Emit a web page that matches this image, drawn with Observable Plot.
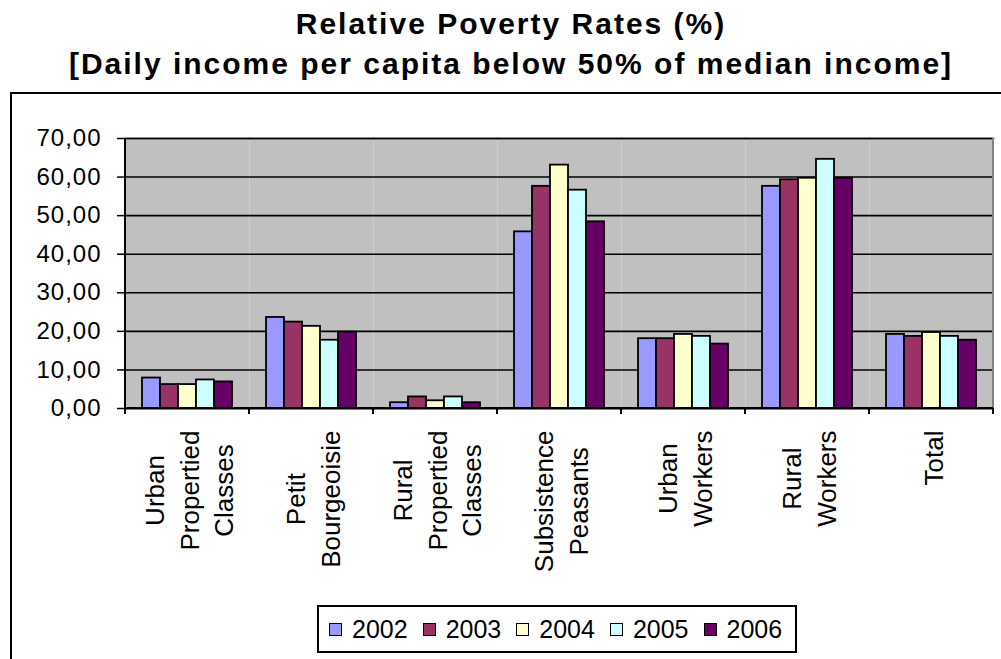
<!DOCTYPE html>
<html>
<head>
<meta charset="utf-8">
<script src="https://cdn.jsdelivr.net/npm/d3@7"></script>
<script src="https://cdn.jsdelivr.net/npm/@observablehq/plot@0.6"></script>
<style>
  html, body { margin: 0; padding: 0; background: #fff; }
  body { font-family: "Liberation Sans", Arial, sans-serif; }
  #wrap { position: relative; width: 1001px; height: 659px; overflow: hidden; }
  #title { position: absolute; left: 0; top: 4px; width: 1001px; box-sizing: border-box; padding-left: 21px;
           text-align: center; font-weight: bold; font-size: 30px; letter-spacing: 2px; line-height: 40px; color: #000; }
  #box { position: absolute; left: 10px; top: 92px; width: 1100px; height: 700px; border: 2px solid #000; }
  #chart { position: absolute; left: 0; top: 100px; }
  #legend { position: absolute; left: 317px; top: 605px; width: 480px; height: 48px; box-sizing: border-box;
            border: 2px solid #000; background: #fff; display: flex; align-items: center; padding-left: 10px; }
  .item { display: inline-flex; align-items: center; margin-right: 15px; font-size: 25px; }
  .sw { width: 11px; height: 11px; border: 1.5px solid #000; margin-right: 10px; }
</style>
</head>
<body>
<div id="wrap">
  <div id="title">Relative Poverty Rates (%)<br>[Daily income per capita below 50% of median income]</div>
  <div id="box"></div>
  <div id="chart"></div>
  <div id="legend"></div>
</div>
<script>
const categories = ["Urban Propertied Classes", "Petit Bourgeoisie", "Rural Propertied Classes",
  "Subsistence Peasants", "Urban Workers", "Rural Workers", "Total"];
const categoryLabels = ["Urban\nPropertied\nClasses", "Petit\nBourgeoisie", "Rural\nPropertied\nClasses",
  "Subsistence\nPeasants", "Urban\nWorkers", "Rural\nWorkers", "Total"];
const years = ["2002", "2003", "2004", "2005", "2006"];
const v2002 = [7.9, 23.6, 1.5, 45.8, 18.1, 57.6, 19.2];
const v2003 = [6.2, 22.4, 3.0, 57.6, 18.1, 59.3, 18.7];
const v2004 = [6.2, 21.3, 2.0, 63.1, 19.2, 59.7, 19.7];
const v2005 = [7.4, 17.7, 3.0, 56.6, 18.7, 64.6, 18.7];
const v2006 = [6.9, 19.8, 1.5, 48.4, 16.7, 59.7, 17.7];
const colors = ["#9999ff", "#993366", "#ffffcc", "#ccffff", "#660066"];
const yTicks = [0, 10, 20, 30, 40, 50, 60, 70];

const series = [v2002, v2003, v2004, v2005, v2006];
const data = [];
categories.forEach((c, i) => years.forEach((yr, j) => data.push({category: c, year: yr, value: series[j][i]})));
const labelOf = Object.fromEntries(categories.map((c, i) => [c, categoryLabels[i]]));
const fmt = d => d.toFixed(2).replace(".", ",");

const chart = Plot.plot({
  width: 1001,
  height: 500,
  marginLeft: 124,
  marginRight: 8,
  marginTop: 38,
  marginBottom: 192,
  style: {fontFamily: "'Liberation Sans', Arial, sans-serif", color: "#000", background: "transparent", overflow: "visible"},
  fx: {domain: categories, padding: 0},
  x: {domain: years, paddingInner: 0, paddingOuter: 0.8, axis: null},
  y: {domain: [0, 70], label: null},
  color: {domain: years, range: colors},
  marks: [
    Plot.frame({fill: "#c0c0c0", stroke: null}),
    Plot.frame({anchor: "top", stroke: "#808080", strokeWidth: 2}),
    Plot.gridY(yTicks.slice(1), {stroke: "#000", strokeOpacity: 1, strokeWidth: 1.6}),
    Plot.barY(data, {fx: "category", x: "year", y: "value", fill: "year", stroke: "#000", strokeWidth: 1.8}),
    Plot.ruleY([0], {stroke: "#000", strokeWidth: 2}),
    Plot.axisY(yTicks, {label: null, tickSize: 8, tickPadding: 16, tickFormat: fmt, fontSize: 24, strokeWidth: 1.5}),
    Plot.axisFx({anchor: "bottom", label: null, tickSize: 0, tickPadding: 22, tickRotate: -90, textAnchor: "end",
                 lineAnchor: "middle", lineHeight: 1.33, fontSize: 26, tickFormat: c => labelOf[c]})
  ]
});
document.getElementById("chart").appendChild(chart);

const svg = d3.select(chart);
svg.selectAll('[aria-label="y-axis tick label"] text').style("letter-spacing", "1px");

// center the lines of each rotated category label on its longest line
svg.selectAll('[aria-label="fx-axis tick label"] text').each(function() {
  const tspans = Array.from(this.querySelectorAll("tspan"));
  if (!tspans.length) return;
  const lens = tspans.map(t => t.getComputedTextLength());
  const L = Math.max(...lens);
  tspans.forEach((t, i) => t.setAttribute("x", -(L - lens[i]) / 2));
});

// axis line and category separator ticks from the scales
const fx = chart.scale("fx"), y = chart.scale("y");
const y0 = y.apply(0), yTop = y.apply(70);
const bounds = categories.map(c => fx.apply(c));
bounds.push(fx.apply(categories[categories.length - 1]) + fx.bandwidth);
const g = svg.append("g");
g.append("line").attr("x1", bounds[bounds.length - 1]).attr("x2", bounds[bounds.length - 1])
  .attr("y1", yTop).attr("y2", y0).attr("stroke", "#808080").attr("stroke-width", 2);
g.append("line").attr("x1", bounds[0]).attr("x2", bounds[0]).attr("y1", yTop).attr("y2", y0 + 6)
  .attr("stroke", "#000").attr("stroke-width", 2);
bounds.forEach(b => g.append("line").attr("x1", b).attr("x2", b).attr("y1", y0).attr("y2", y0 + 6)
  .attr("stroke", "#000").attr("stroke-width", 2));
g.append("line").attr("x1", bounds[0]).attr("x2", bounds[bounds.length - 1]).attr("y1", y0).attr("y2", y0)
  .attr("stroke", "#000").attr("stroke-width", 2);

// legend from the color scale
const color = chart.scale("color");
const legend = document.getElementById("legend");
color.domain.forEach(d => {
  const item = document.createElement("span");
  item.className = "item";
  const sw = document.createElement("span");
  sw.className = "sw";
  sw.style.background = color.apply(d);
  item.appendChild(sw);
  item.appendChild(document.createTextNode(d));
  legend.appendChild(item);
});
</script>
</body>
</html>
